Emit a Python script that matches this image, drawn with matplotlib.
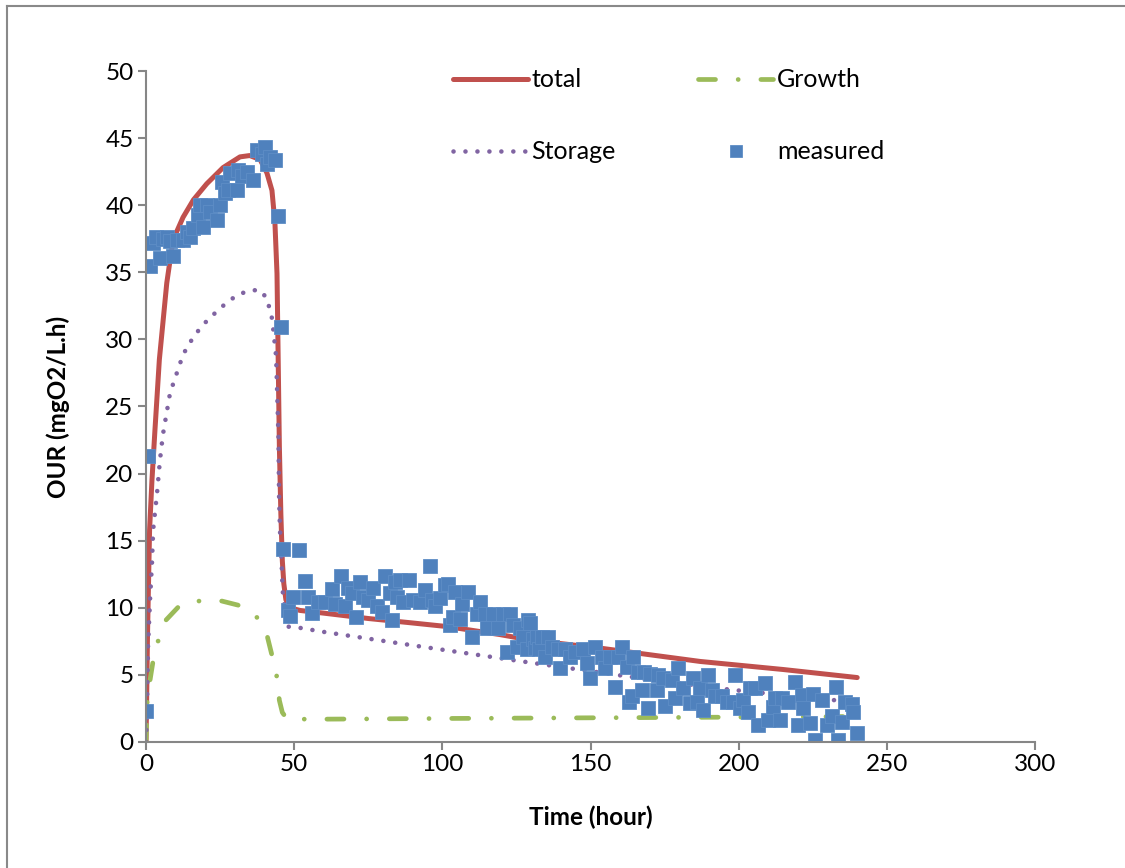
import matplotlib.pyplot as plt
from matplotlib.lines import Line2D

plt.rcParams['font.family'] = ['Lato', 'DejaVu Sans']

# model curves (hour, mgO2/L.h)
total_t = [0, 0.2, 0.5, 1.2, 2.0, 3.0, 4.5, 7.0, 9.1, 12.5, 16, 20.5, 26, 31.7, 35, 38.5,
           40.8, 42.5, 43.5, 44.2, 44.6, 45.0, 45.5, 46.0, 46.5, 47.2, 48.6, 52, 60, 75,
           88.5, 101.6, 119.5, 129.6, 153, 187, 215, 240]
total_y = [0, 3, 8, 15.8, 19.5, 23.2, 28.5, 34.2, 37.4, 39.1, 40.4, 41.6, 42.8, 43.6, 43.7, 43.4,
           42.4, 41.1, 38.7, 34.9, 28.5, 22.0, 17.0, 13.5, 11.8, 10.6, 10.0, 9.8, 9.6, 9.2,
           8.9, 8.6, 8.0, 7.6, 7.0, 6.0, 5.4, 4.8]

storage_t = [0, 0.34, 0.67, 1.35, 2.0, 2.4, 3.7, 4.7, 5.7, 8.1, 12.4, 14.3, 16.5, 18.8, 21.6,
             24.4, 27.6, 30.8, 34.3, 38.2, 40.7, 41.8, 42.8, 43.0, 43.5, 43.9, 44.7, 44.9,
             45.2, 45.8, 46.1, 46.6, 47.7, 52, 60, 90, 127, 146, 162, 197, 233, 240]
storage_y = [0, 2.9, 7.1, 10.6, 13.3, 15.8, 18.5, 21.0, 22.9, 26.0, 28.8, 29.6, 30.3, 31.0, 31.6,
             32.2, 32.8, 33.3, 33.6, 33.7, 33.1, 32.2, 31.3, 30.5, 29.6, 28.7, 22.7, 18.3,
             15.8, 13.1, 11.3, 10.3, 8.6, 8.5, 8.2, 7.2, 6.0, 5.4, 4.9, 3.9, 3.1, 2.9]

growth_t = [0, 0.34, 1.35, 3.0, 6.8, 11.5, 17, 25.6, 31, 35, 37.8, 41, 42.9, 44.2, 45.0, 46,
            47.6, 60, 100, 150, 200, 240]
growth_y = [0, 2.9, 4.6, 6.9, 9.1, 10.2, 10.5, 10.5, 10.2, 9.8, 9.2, 7.8, 6.1, 4.8, 3.1, 2.2,
            1.7, 1.7, 1.75, 1.8, 1.85, 1.9]

# measured OUR
meas_t = [0.0, 0.7, 1.4, 2.4, 3.4, 4.7, 5.7, 7.0, 8.0, 9.1, 10.5, 12.5, 13.8, 15.0, 16.0, 17.5,
          18.2, 19.3, 20.5, 21.6, 24.0, 25.0, 25.6, 26.7, 27.7, 28.3, 30.7, 31.0, 32.5, 34.0,
          36.0, 37.5, 39.0, 40.2, 40.8, 42.0, 43.5, 44.6, 45.6, 46.2, 48.0, 48.6, 49.6, 51.6,
          53.7, 54.7, 56.0, 58.0, 60.4, 62.8, 63.8, 65.8, 67.2, 68.2, 69.5, 70.9, 72.2, 73.2,
          74.9, 76.6, 77.9, 79.6, 80.7, 82.3, 83.0, 84.0, 84.7, 85.7, 86.7, 88.8, 90.0, 92.5,
          94.2, 95.8, 96.5, 97.5, 99.2, 100.9, 102.0, 102.6, 103.6, 104.3, 106.0, 106.6, 108.7,
          110.0, 111.7, 112.7, 114.4, 115.0, 117.1, 118.8, 120.5, 121.8, 122.8, 123.9, 125.2,
          126.2, 127.2, 128.6, 128.9, 129.6, 130.6, 131.3, 131.9, 132.5, 133.5, 134.7, 135.5,
          137.0, 139.0, 139.7, 141.4, 143.1, 144.8, 147.5, 148.8, 149.8, 151.5, 153.9, 154.9,
          156.6, 158.3, 159.3, 160.6, 162.3, 163.0, 164.0, 164.4, 166.0, 167.4, 167.9, 169.4,
          170.0, 172.5, 172.8, 174.5, 175.2, 177.5, 178.5, 179.5, 181.2, 183.6, 184.6, 186.0,
          187.0, 188.0, 189.7, 191.0, 192.0, 194.4, 196.0, 198.0, 198.8, 200.5, 201.5, 203.2,
          203.8, 205.5, 206.5, 208.9, 210.0, 211.6, 212.3, 214.0, 214.6, 216.7, 219.0, 220.0,
          221.4, 221.7, 224.0, 225.0, 225.8, 228.2, 229.8, 231.5, 232.9, 233.5, 234.9, 235.9,
          238.3, 238.6, 240.0]
meas_y = [2.3, 21.3, 35.5, 37.2, 37.6, 36.1, 37.5, 37.6, 37.3, 36.2, 37.4, 37.4, 38.0, 37.6, 38.3,
          39.3, 40.0, 38.4, 40.0, 39.5, 38.9, 40.0, 41.7, 40.9, 41.1, 42.4, 41.1, 42.6, 42.2,
          42.5, 41.9, 44.1, 43.8, 44.3, 43.1, 43.6, 43.4, 39.2, 30.9, 14.4, 9.8, 9.4, 10.8,
          14.3, 12.0, 10.8, 9.6, 10.4, 10.4, 11.4, 10.3, 12.4, 10.1, 11.5, 11.1, 9.3, 11.9, 10.8,
          10.6, 11.5, 10.1, 9.7, 12.4, 11.1, 9.1, 11.9, 10.8, 12.1, 10.4, 12.1, 10.6, 10.4, 11.3,
          13.1, 10.6, 10.1, 10.7, 11.7, 11.8, 8.7, 9.3, 11.2, 9.2, 10.3, 11.2, 7.8, 9.5, 10.4,
          9.5, 8.5, 9.5, 8.5, 9.5, 6.7, 9.5, 8.7, 7.1, 8.5, 7.8, 6.9, 9.1, 8.9, 7.7, 7.0, 7.8,
          6.9, 7.8, 6.3, 7.8, 7.1, 6.9, 5.5, 6.9, 6.3, 6.7, 6.9, 5.9, 4.8, 7.1, 6.3, 5.5, 6.3,
          4.1, 6.3, 7.1, 5.6, 3.0, 3.4, 6.3, 5.2, 3.9, 5.2, 2.5, 5.1, 3.9, 5.0, 4.8, 2.7, 4.6,
          3.3, 5.5, 4.0, 2.9, 4.8, 3.0, 4.0, 2.4, 5.0, 3.9, 3.4, 3.4, 3.0, 3.0, 5.0, 2.5, 3.1,
          2.2, 4.0, 4.0, 1.3, 4.4, 1.6, 2.6, 3.3, 1.6, 3.3, 3.0, 4.5, 1.3, 3.5, 2.5, 1.4, 3.6,
          0.15, 3.1, 1.3, 1.9, 4.1, 0.15, 1.5, 3.0, 2.8, 2.2, 0.7]

fig = plt.figure(figsize=(11.25, 8.68), dpi=100)
ax = fig.add_axes([0.1298, 0.1452, 0.7902, 0.7730])

l_total, = ax.plot(total_t, total_y, color='#C0504D', lw=3.6, solid_capstyle='round', label='total')
l_growth, = ax.plot(growth_t, growth_y, color='#9BBB59', lw=3.4,
                    linestyle=(0, (3.6, 4.8, 0.01, 4.8)), dash_capstyle='round', label='Growth')
l_storage, = ax.plot(storage_t, storage_y, color='#8064A2', lw=3.3,
                     linestyle=(0, (0.01, 2.6)), dash_capstyle='round', label='Storage')
l_meas, = ax.plot(meas_t, meas_y, 's', color='#4F81BD', markersize=9.5,
                  markeredgecolor='#5E8DC6', markeredgewidth=0.6, label='measured')

ax.set_xlim(0, 300)
ax.set_ylim(0, 50)
ax.set_xticks(range(0, 301, 50))
ax.set_yticks(range(0, 51, 5))
for s in ['top', 'right']:
    ax.spines[s].set_visible(False)
for s in ['left', 'bottom']:
    ax.spines[s].set_color('#868686')
    ax.spines[s].set_linewidth(1.5)
ax.tick_params(direction='out', length=6, width=1.5, color='#868686', labelsize=17.5, pad=3)

ax.set_xlabel('Time (hour)', fontsize=17.5, fontweight='bold')
ax.set_ylabel('OUR (mgO2/L.h)', fontsize=17.5, fontweight='bold')
ax.xaxis.set_label_coords(0.5, -0.095)
ax.yaxis.set_label_coords(-0.085, 0.5)

leg = ax.legend([l_total, l_storage, l_growth, l_meas], ['total', 'Storage', 'Growth', 'measured'],
                ncol=2, loc='upper left', bbox_to_anchor=(0.345, 1.004), frameon=False,
                fontsize=18, handlelength=3.0, handletextpad=0.15, columnspacing=3.3,
                labelspacing=1.96, borderpad=0, borderaxespad=0, markerscale=0.9)

# chart area border (left/top visible)
fig.add_artist(Line2D([7 / 1125, 7 / 1125], [0, 1 - 6 / 868], transform=fig.transFigure,
                      color='#898989', lw=1.5))
fig.add_artist(Line2D([7 / 1125, 1], [1 - 6 / 868, 1 - 6 / 868], transform=fig.transFigure,
                      color='#898989', lw=1.5))

fig.savefig('out.png', dpi=100)
